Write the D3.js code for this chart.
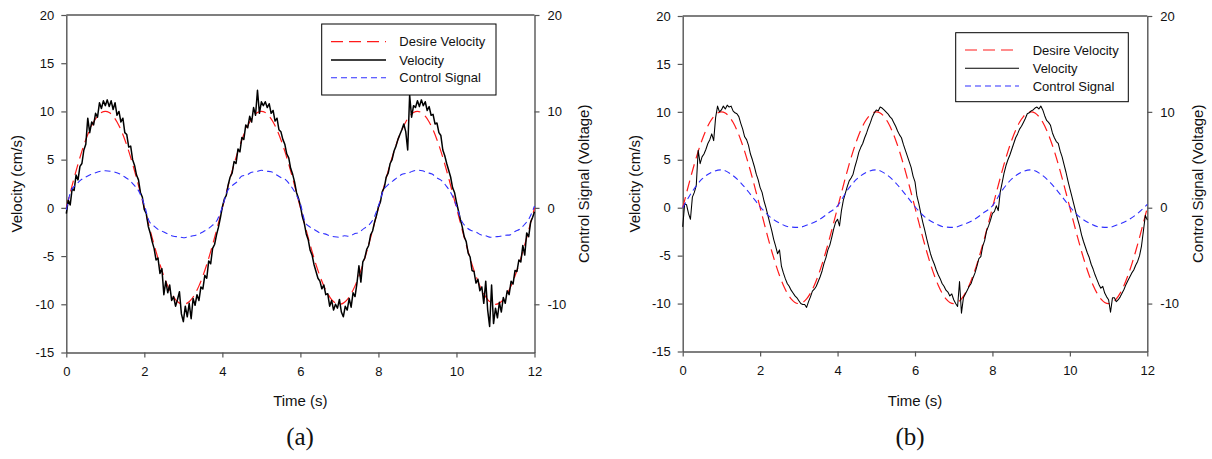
<!DOCTYPE html>
<html><head><meta charset="utf-8">
<script src="https://cdn.jsdelivr.net/npm/d3@7"></script>
<style>
body{margin:0;background:#fff}
svg{display:block}
text{font-family:Arial,"Liberation Sans",sans-serif;fill:#111}
</style>
</head><body>
<svg id="chart" width="1212" height="459"></svg>
<script>
// ---- data ----
const sampleStep = 0.05;      // velocity samples (s)
const desiredStep = 0.1;      // desired velocity samples (s)
const controlStepA = 0.125;   // control signal samples, panel (a)
const controlStepB = 0.25;    // control signal samples, panel (b)

const xTicks = [0, 2, 4, 6, 8, 10, 12];
const yTicksLeft = [-15, -10, -5, 0, 5, 10, 15, 20];
const yTicksRight = [-10, 0, 10, 20];
const seriesNames = ["Desire Velocity", "Velocity", "Control Signal"];
const panelLabels = ["(a)", "(b)"];

const desiredVelocity = [
  0, 1.56, 3.09, 4.54, 5.88, 7.07, 8.09, 8.91, 9.51, 9.88, 10, 9.88, 9.51, 8.91, 8.09, 7.07, 5.88, 4.54, 3.09, 1.56,
  0, -1.56, -3.09, -4.54, -5.88, -7.07, -8.09, -8.91, -9.51, -9.88, -10, -9.88, -9.51, -8.91, -8.09, -7.07, -5.88, -4.54, -3.09, -1.56,
  0, 1.56, 3.09, 4.54, 5.88, 7.07, 8.09, 8.91, 9.51, 9.88, 10, 9.88, 9.51, 8.91, 8.09, 7.07, 5.88, 4.54, 3.09, 1.56,
  0, -1.56, -3.09, -4.54, -5.88, -7.07, -8.09, -8.91, -9.51, -9.88, -10, -9.88, -9.51, -8.91, -8.09, -7.07, -5.88, -4.54, -3.09, -1.56,
  0, 1.56, 3.09, 4.54, 5.88, 7.07, 8.09, 8.91, 9.51, 9.88, 10, 9.88, 9.51, 8.91, 8.09, 7.07, 5.88, 4.54, 3.09, 1.56,
  0, -1.56, -3.09, -4.54, -5.88, -7.07, -8.09, -8.91, -9.51, -9.88, -10, -9.88, -9.51, -8.91, -8.09, -7.07, -5.88, -4.54, -3.09, -1.56,
  0
];

const velocityA = [
  -0.6, 0.8, 0.3, 2.0, 1.8, 3.4, 2.9, 4.3, 4.6, 6.0, 6.6, 9.3, 7.8, 8.9, 8.6, 9.8, 9.4, 10.9, 10.3, 11.1,
  10.6, 11.2, 10.5, 11.1, 10.2, 10.9, 9.6, 10.0, 8.9, 9.3, 7.8, 7.6, 6.3, 6.4, 5.0, 4.4, 3.4, 2.9, 1.6, 1.1,
  -0.2, -0.6, -1.9, -2.6, -3.5, -4.2, -5.4, -5.2, -6.8, -6.3, -9.0, -7.6, -8.8, -8.0, -9.6, -9.2, -10.2, -9.5, -8.7, -11.0,
  -11.8, -10.2, -11.3, -9.9, -11.5, -9.4, -10.1, -9.0, -9.6, -8.2, -8.4, -7.0, -7.3, -5.5, -5.8, -4.2, -3.8, -2.8, -2.0, -1.0,
  0.1, 0.9, 1.3, 2.4, 3.2, 3.6, 4.8, 4.6, 6.1, 5.8, 7.3, 7.1, 8.6, 8.3, 9.5, 8.9, 10.4, 9.6, 12.2, 9.8,
  11.0, 10.6, 11.0, 10.4, 10.8, 9.8, 10.1, 9.0, 9.3, 8.1, 7.9, 7.1, 6.6, 5.6, 5.2, 4.1, 3.5, 2.7, 1.6, 1.0,
  0.2, -0.9, -1.6, -2.7, -3.3, -4.4, -4.9, -5.9, -6.6, -7.3, -7.6, -8.4, -8.0, -9.0, -8.9, -10.2, -9.6, -10.6, -10.0, -10.4,
  -9.5, -10.8, -11.3, -10.2, -10.6, -9.4, -10.3, -8.8, -9.2, -7.8, -6.0, -7.7, -5.6, -5.2, -4.3, -3.9, -2.8, -2.4, -1.5, -0.8,
  0.1, 0.6, 1.7, 2.1, 3.2, 3.6, 4.6, 5.0, 5.9, 6.4, 7.1, 7.6, 8.1, 8.7, 7.9, 6.0, 11.7, 9.4, 10.6, 10.4,
  11.1, 10.5, 11.2, 10.6, 11.0, 10.1, 10.5, 9.6, 9.7, 8.7, 8.8, 7.8, 7.5, 6.0, 5.4, 4.6, 3.9, 3.2, 2.1, 1.6,
  0.6, -0.3, -1.2, -2.0, -3.0, -3.5, -4.7, -5.1, -6.5, -6.6, -7.8, -7.4, -8.6, -8.2, -9.9, -7.6, -10.6, -12.3, -8.0, -12.0,
  -10.4, -11.4, -9.8, -10.8, -9.3, -9.9, -8.6, -9.0, -7.6, -7.9, -6.5, -6.6, -5.4, -5.6, -3.9, -4.9, -2.6, -3.0, -1.5, -1.0,
  -0.4
];

const controlA = [
  -0.2, 1.8, 2.4, 2.9, 3.2, 3.45, 3.65, 3.8, 3.85, 3.8, 3.7, 3.5, 3.2, 2.85, 2.3, 1.6,
  0.3, -1.4, -1.9, -2.3, -2.5, -2.75, -2.95, -3.0, -3.1, -3.0, -2.9, -2.75, -2.5, -2.2, -1.8, -1.2,
  0.1, 1.7, 2.3, 2.7, 3.3, 3.4, 3.7, 3.75, 3.9, 3.8, 3.75, 3.45, 3.15, 2.9, 2.3, 1.5,
  0.4, -1.5, -2.0, -2.3, -2.6, -2.7, -2.9, -3.0, -3.05, -2.9, -2.95, -2.7, -2.55, -2.15, -1.8, -1.1,
  0.2, 1.8, 2.4, 2.8, 3.2, 3.5, 3.6, 3.8, 3.9, 3.85, 3.65, 3.5, 3.1, 2.8, 2.2, 1.4,
  0.2, -1.3, -2.0, -2.35, -2.5, -2.8, -2.9, -3.05, -3.0, -2.95, -2.85, -2.8, -2.45, -2.2, -1.7, -1.0,
  0.2
];

const velocityB = [
  -2.0, 0.4, 0.3, -0.6, -1.2, 1.1, 1.6, 2.3, 6.0, 4.6, 5.3, 5.6, 6.1, 6.7, 7.1, 7.7, 7.0, 9.4, 10.6, 10.0,
  10.2, 10.6, 10.3, 10.7, 10.5, 10.6, 10.1, 9.9, 9.8, 9.5, 8.8, 8.2, 7.4, 7.1, 6.5, 5.6, 5.0, 4.3, 3.5, 2.9,
  2.1, 1.6, 0.7, 0.0, -0.8, -1.6, -2.4, -3.3, -4.0, -4.8, -4.4, -6.1, -6.8, -7.4, -7.9, -8.2, -8.6, -8.9, -9.2, -9.4,
  -9.7, -10.0, -10.1, -10.1, -10.4, -9.8, -9.3, -8.7, -8.5, -8.2, -7.7, -7.2, -6.6, -5.8, -5.2, -4.4, -3.9, -3.1, -2.2, -1.5,
  -1.2, -1.9, -0.3, 0.8, 1.5, 2.2, 2.8, 3.1, 3.5, 4.3, 5.0, 5.8, 6.3, 6.7, 7.3, 7.8, 8.4, 8.9, 9.5, 9.9,
  10.2, 10.1, 10.5, 10.4, 10.2, 10.0, 9.8, 9.5, 9.3, 8.9, 8.5, 8.0, 7.6, 7.3, 6.6, 6.0, 5.4, 4.8, 4.2, 3.3,
  2.7, 1.2, 0.4, -0.6, -1.5, -2.3, -3.2, -4.0, -4.8, -5.4, -5.9, -6.5, -7.0, -7.4, -7.9, -8.2, -8.6, -8.8, -9.2, -9.0,
  -9.6, -10.0, -10.3, -7.7, -11.0, -9.4, -9.0, -8.6, -8.2, -7.9, -7.3, -6.8, -6.1, -5.3, -5.1, -4.0, -3.4, -2.4, -1.9, -1.3,
  -0.6, -0.4, 0.2, -0.3, 1.6, 2.6, 3.6, 4.4, 5.0, 5.5, 6.1, 6.7, 7.3, 7.7, 8.2, 8.5, 8.9, 9.3, 9.8, 9.9,
  10.1, 10.2, 10.4, 10.5, 10.3, 10.6, 10.2, 9.6, 9.1, 8.9, 8.6, 7.8, 7.3, 6.9, 6.7, 5.9, 5.3, 4.5, 3.7, 2.8,
  2.0, 1.2, 0.4, -0.4, -1.2, -1.9, -2.8, -3.5, -4.1, -4.7, -5.2, -5.9, -6.4, -7.0, -7.5, -8.0, -8.4, -8.2, -8.9, -9.3,
  -9.6, -10.9, -9.4, -9.4, -9.8, -9.6, -9.3, -8.9, -8.5, -8.0, -7.6, -7.2, -6.8, -6.5, -6.0, -5.6, -5.0, -4.0, -2.4, -0.8,
  -1.3
];

const controlB = [
  0, 1.7, 3.0, 3.7, 3.95, 3.5, 2.6, 1.4, 0.1, -0.95, -1.6, -2.0, -2.05, -1.75, -1.3, -0.6,
  0.2, 1.8, 3.0, 3.7, 3.95, 3.5, 2.6, 1.4, 0.1, -0.95, -1.6, -2.0, -2.05, -1.75, -1.3, -0.6,
  0.2, 1.8, 3.0, 3.7, 3.95, 3.5, 2.6, 1.4, 0.1, -0.95, -1.6, -2.0, -2.05, -1.75, -1.3, -0.6,
  0.35
];

// ---- drawing ----
const svg = d3.select("#chart");
const RED = "#ff1a1a", BLUE = "#2f2fff", AXIS = "#555";
const fmt = d => String(d);   // plain hyphen-minus like the reference

const panels = [
  {left: 66.3, right: 534.5, top: 15, bottom: 352.5, vel: velocityA, ctrl: controlA, ctrlStep: controlStepA,
   velWidth: 1.5, label: panelLabels[0], labelX: 300, yTitleX: 17, rTitleX: 584,
   legend: {x: 321.7, y: 24, w: 174.3, h: 71, rows: [41.7, 60, 77.7], lx1: 331, lx2: 386, tx: 399.3}},
  {left: 682.7, right: 1147.3, top: 16, bottom: 351.5, vel: velocityB, ctrl: controlB, ctrlStep: controlStepB,
   velWidth: 1.05, label: panelLabels[1], labelX: 910, yTitleX: 635, rTitleX: 1198,
   legend: {x: 955.7, y: 32.7, w: 172.6, h: 69, rows: [50, 68.3, 86], lx1: 965, lx2: 1019, tx: 1032.7}}
];

panels.forEach(p => {
  const g = svg.append("g");
  const x = d3.scaleLinear().domain([0, 12]).range([p.left, p.right]);
  const y = d3.scaleLinear().domain([-15, 20]).range([p.bottom, p.top]);

  // frame top line
  g.append("line").attr("x1", p.left).attr("x2", p.right).attr("y1", p.top).attr("y2", p.top)
    .attr("stroke", AXIS).attr("stroke-width", 1.4);

  const styleAxis = sel => {
    sel.selectAll(".domain").attr("stroke", AXIS).attr("stroke-width", 1.4);
    sel.selectAll(".tick line").attr("stroke", AXIS).attr("stroke-width", 1.2);
    sel.selectAll(".tick text").attr("font-size", 13).attr("fill", "#111")
      .attr("font-family", "Arial, 'Liberation Sans', sans-serif");
  };

  g.append("g").attr("transform", `translate(${p.left},0)`)
    .call(d3.axisLeft(y).tickValues(yTicksLeft).tickSize(5).tickSizeOuter(0).tickPadding(7).tickFormat(fmt))
    .call(styleAxis);
  g.append("g").attr("transform", `translate(${p.right},0)`)
    .call(d3.axisRight(y).tickValues(yTicksRight).tickSize(5).tickSizeOuter(0).tickPadding(8).tickFormat(fmt))
    .call(styleAxis);
  g.append("g").attr("transform", `translate(0,${p.bottom})`)
    .call(d3.axisBottom(x).tickValues(xTicks).tickSize(5).tickSizeOuter(0).tickPadding(9).tickFormat(fmt))
    .call(styleAxis);

  // series
  const lineOf = step => d3.line().x((d, i) => x(i * step)).y(d => y(d));
  g.append("path").datum(desiredVelocity)
    .attr("d", lineOf(desiredStep).curve(d3.curveMonotoneX))
    .attr("fill", "none").attr("stroke", RED).attr("stroke-width", 1.2).attr("stroke-dasharray", "11,6");
  g.append("path").datum(p.vel)
    .attr("d", lineOf(sampleStep))
    .attr("fill", "none").attr("stroke", "#000").attr("stroke-width", p.velWidth).attr("stroke-linejoin", "round");
  g.append("path").datum(p.ctrl)
    .attr("d", lineOf(p.ctrlStep).curve(d3.curveMonotoneX))
    .attr("fill", "none").attr("stroke", BLUE).attr("stroke-width", 1.1).attr("stroke-dasharray", "6,4");

  // legend
  const L = p.legend;
  g.append("rect").attr("x", L.x).attr("y", L.y).attr("width", L.w).attr("height", L.h)
    .attr("fill", "#fff").attr("stroke", "#000").attr("stroke-width", 1);
  const legStyles = [
    {stroke: RED, dash: "12,6", w: 1.2},
    {stroke: "#000", dash: null, w: p.velWidth},
    {stroke: BLUE, dash: "6,4", w: 1.1}
  ];
  seriesNames.forEach((name, i) => {
    g.append("line").attr("x1", L.lx1).attr("x2", L.lx2).attr("y1", L.rows[i]).attr("y2", L.rows[i])
      .attr("stroke", legStyles[i].stroke).attr("stroke-width", legStyles[i].w)
      .attr("stroke-dasharray", legStyles[i].dash);
    g.append("text").attr("x", L.tx).attr("y", L.rows[i]).attr("dy", "0.36em")
      .attr("font-size", 13).text(name);
  });

  // titles
  const cy = (p.top + p.bottom) / 2;
  g.append("text").attr("transform", `translate(${p.yTitleX},${cy}) rotate(-90)`)
    .attr("text-anchor", "middle").attr("dy", "0.36em").attr("font-size", 15).text("Velocity (cm/s)");
  g.append("text").attr("transform", `translate(${p.rTitleX},${cy}) rotate(-90)`)
    .attr("text-anchor", "middle").attr("dy", "0.36em").attr("font-size", 15).text("Control Signal (Voltage)");
  g.append("text").attr("x", (p.left + p.right) / 2).attr("y", 406)
    .attr("text-anchor", "middle").attr("font-size", 15).text("Time (s)");
  g.append("text").attr("x", p.labelX).attr("y", 445)
    .attr("text-anchor", "middle").attr("font-size", 25)
    .style("font-family", "'Liberation Serif','DejaVu Serif',serif").text(p.label);
});
</script>
</body></html>
